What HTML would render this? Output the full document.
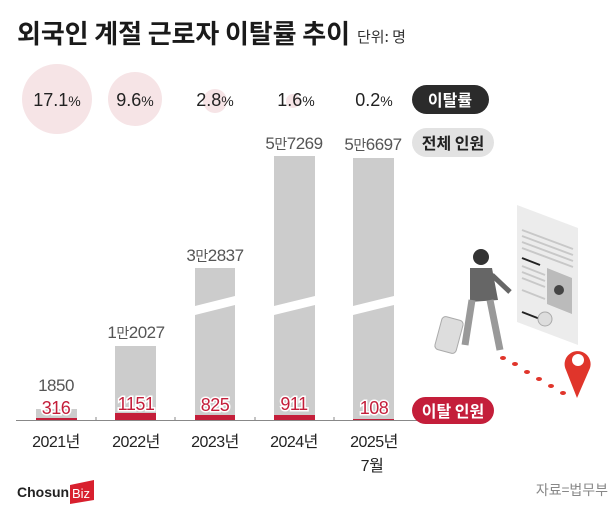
<!DOCTYPE html>
<html><head><meta charset="utf-8"><style>
html,body{margin:0;padding:0;background:#fff;}
body{width:616px;height:519px;overflow:hidden;font-family:"Liberation Sans","Noto Sans CJK KR",sans-serif;}
</style></head><body>
<svg width="616" height="519" viewBox="0 0 616 519" xmlns="http://www.w3.org/2000/svg" font-family="Liberation Sans, Noto Sans CJK KR, sans-serif">
<rect width="616" height="519" fill="#fff"/>
<text x="17" y="43" font-size="26" font-weight="bold" fill="#1a1a1a" font-family="Noto Sans CJK KR, sans-serif" textLength="333" lengthAdjust="spacing">외국인 계절 근로자 이탈률 추이</text>
<text x="357" y="42" font-size="15" fill="#333" font-family="Noto Sans CJK KR, sans-serif">단위: 명</text>

<!-- rate circles -->
<circle cx="57" cy="99" r="35" fill="#f6e4e6"/>
<circle cx="135" cy="99" r="27" fill="#f6e4e6"/>
<circle cx="215" cy="101" r="12" fill="#f6e4e6"/>
<circle cx="293" cy="101" r="7" fill="#f6e4e6"/>
<g font-size="18" fill="#222" text-anchor="middle">
<text x="57" y="106">17.1<tspan font-size="14">%</tspan></text>
<text x="135" y="106">9.6<tspan font-size="14">%</tspan></text>
<text x="215" y="106">2.8<tspan font-size="14">%</tspan></text>
<text x="296" y="106">1.6<tspan font-size="14">%</tspan></text>
<text x="374" y="106">0.2<tspan font-size="14">%</tspan></text>
</g>
<rect x="412" y="85" width="77" height="29" rx="14.5" fill="#2b2b2b"/>
<text x="450" y="106" font-size="16" font-weight="bold" fill="#fff" text-anchor="middle" font-family="Noto Sans CJK KR, sans-serif">이탈률</text>
<rect x="412" y="128" width="82" height="29" rx="14.5" fill="#e2e2e2"/>
<text x="453" y="149" font-size="16" font-weight="bold" fill="#222" text-anchor="middle" font-family="Noto Sans CJK KR, sans-serif">전체 인원</text>

<!-- bars -->
<g fill="#cccccc">
<rect x="36" y="409" width="41" height="11"/>
<rect x="115" y="346" width="41" height="74"/>
<polygon points="195,268 235,268 235,296 195,306"/>
<polygon points="195,315 235,305 235,420 195,420"/>
<polygon points="274,156 315,156 315,296 274,306"/>
<polygon points="274,315 315,305 315,420 274,420"/>
<polygon points="353,158 394,158 394,296 353,306"/>
<polygon points="353,315 394,305 394,420 353,420"/>
</g>
<g fill="#c41e3a">
<rect x="36" y="418" width="41" height="2"/>
<rect x="115" y="413" width="41" height="7"/>
<rect x="195" y="415" width="40" height="5"/>
<rect x="274" y="415" width="41" height="5"/>
<rect x="353" y="419" width="41" height="1"/>
</g>
<g font-size="17" fill="#555" text-anchor="middle" letter-spacing="-0.5">
<text x="56" y="391">1850</text>
<text x="136" y="338">1<tspan font-size="14" font-family="Noto Sans CJK KR, sans-serif">만</tspan>2027</text>
<text x="215" y="261">3<tspan font-size="14" font-family="Noto Sans CJK KR, sans-serif">만</tspan>2837</text>
<text x="294" y="149">5<tspan font-size="14" font-family="Noto Sans CJK KR, sans-serif">만</tspan>7269</text>
<text x="373" y="150">5<tspan font-size="14" font-family="Noto Sans CJK KR, sans-serif">만</tspan>6697</text>
</g>
<g font-size="18" fill="#c41e3a" text-anchor="middle" stroke="#fff" stroke-width="3" paint-order="stroke" letter-spacing="-0.5">
<text x="56" y="414">316</text>
<text x="136" y="410">1151</text>
<text x="215" y="411">825</text>
<text x="294" y="410">911</text>
<text x="374" y="414">108</text>
</g>
<line x1="16" y1="420.5" x2="418" y2="420.5" stroke="#888" stroke-width="1"/>
<g stroke="#888"><line x1="96" y1="417" x2="96" y2="421"/><line x1="175" y1="417" x2="175" y2="421"/><line x1="255" y1="417" x2="255" y2="421"/><line x1="334" y1="417" x2="334" y2="421"/></g>
<rect x="412" y="397" width="82" height="27" rx="13.5" fill="#c41e3a"/>
<text x="453" y="417" font-size="16" font-weight="bold" fill="#fff" text-anchor="middle" font-family="Noto Sans CJK KR, sans-serif">이탈 인원</text>

<g font-size="16" fill="#222" text-anchor="middle" letter-spacing="-0.5">
<text x="56" y="447">2021<tspan font-family="Noto Sans CJK KR, sans-serif">년</tspan></text>
<text x="136" y="447">2022<tspan font-family="Noto Sans CJK KR, sans-serif">년</tspan></text>
<text x="215" y="447">2023<tspan font-family="Noto Sans CJK KR, sans-serif">년</tspan></text>
<text x="294" y="447">2024<tspan font-family="Noto Sans CJK KR, sans-serif">년</tspan></text>
<text x="374" y="447">2025<tspan font-family="Noto Sans CJK KR, sans-serif">년</tspan></text>
<text x="372" y="471">7<tspan font-family="Noto Sans CJK KR, sans-serif">월</tspan></text>
</g>

<!-- illustration -->
<polygon points="517,205 578,228 578,345 517,322" fill="#ececec"/>
<g stroke="#c8c8c8" stroke-width="2">
<line x1="522" y1="230" x2="573" y2="249"/><line x1="522" y1="236" x2="573" y2="255"/><line x1="522" y1="242" x2="573" y2="261"/><line x1="522" y1="248" x2="573" y2="267"/>
<line x1="522" y1="266" x2="545" y2="275"/><line x1="522" y1="272" x2="545" y2="281"/><line x1="522" y1="278" x2="545" y2="287"/><line x1="522" y1="290" x2="545" y2="299"/>
</g>
<line x1="522" y1="258" x2="540" y2="265" stroke="#222" stroke-width="2"/>
<line x1="522" y1="312" x2="540" y2="319" stroke="#222" stroke-width="2"/>
<polygon points="547,268 572,278 572,314 547,304" fill="#bbb"/>
<circle cx="559" cy="290" r="5" fill="#444"/>
<circle cx="545" cy="319" r="7" fill="#ddd" stroke="#aaa"/>
<circle cx="481" cy="257" r="8" fill="#333"/>
<path d="M470 268 L492 268 L498 300 L470 302 Z" fill="#666"/>
<path d="M492 275 L510 292" stroke="#666" stroke-width="5"/>
<path d="M472 300 L465 345 M490 300 L500 350" stroke="#999" stroke-width="7"/>
<rect x="438" y="318" width="22" height="34" rx="4" fill="#ddd" stroke="#aaa" transform="rotate(15 449 335)"/>
<g fill="#e0352b">
<ellipse cx="503" cy="358" rx="3" ry="2"/><ellipse cx="515" cy="364" rx="3" ry="2"/><ellipse cx="527" cy="372" rx="3" ry="2"/><ellipse cx="539" cy="379" rx="3" ry="2"/><ellipse cx="551" cy="386" rx="3" ry="2"/><ellipse cx="563" cy="393" rx="3" ry="2"/>
</g>
<path d="M577 398 L566 370 A13 13 0 1 1 590 368 Z" fill="#e0352b"/>
<circle cx="578" cy="360" r="6" fill="#fff"/>

<!-- footer -->
<text x="17" y="497" font-size="14" font-weight="bold" fill="#222">Chosun</text>
<polygon points="70,485 94,480 94,500 70,504" fill="#d8202e"/>
<text x="72" y="498" font-size="13" fill="#fff">Biz</text>
<text x="608" y="495" font-size="14" fill="#888" text-anchor="end" font-family="Noto Sans CJK KR, sans-serif">자료=법무부</text>
</svg>
</body></html>
